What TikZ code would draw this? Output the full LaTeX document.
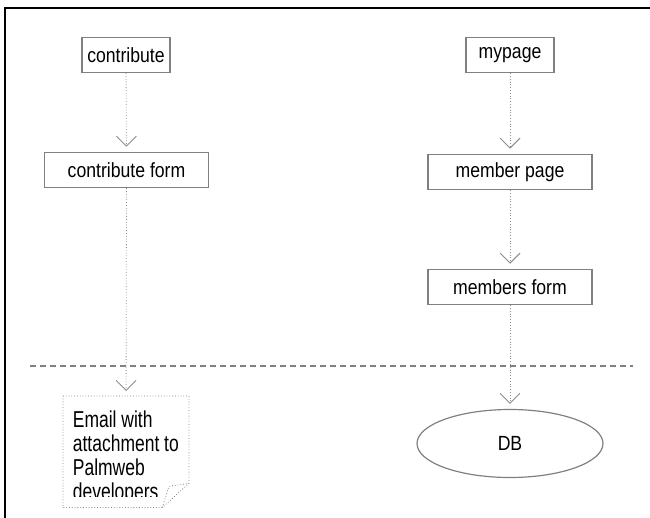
\documentclass[tikz,border=0pt]{standalone}
\usepackage{fontspec}
\setmainfont{Liberation Sans}
\newfontfamily\boxfont[FakeStretch=0.86]{Liberation Sans}
\newfontfamily\notefont[FakeStretch=0.76]{Liberation Sans}
\usetikzlibrary{arrows.meta,shapes.geometric}

\tikzset{
  pagebox/.style={draw=gray, line width=1.5pt, minimum height=35pt, inner xsep=5pt, minimum width=88pt,
    font=\boxfont\fontsize{20.5}{24}\selectfont},
  formbox/.style={pagebox, minimum width=164pt},
  flow/.style={draw=gray!90, dotted, line width=0.8pt, shorten >=5pt,
    -{Straight Barb[length=10pt,width=20pt,line width=0.9pt]}}
}

\begin{document}
\begin{tikzpicture}[x=1pt,y=-1pt]
  \useasboundingbox (0,0) rectangle (650,518);
  % frame
  \draw[line width=2pt] (5,518) -- (5,8) -- (650,8);

  \node[pagebox] (contribute) at (126,55) {contribute};
  \node[pagebox] (mypage) at (510,55) {mypage};
  \node[formbox] (cform) at (126.5,170) {contribute form};
  \node[formbox] (mpage) at (510,172) {member page};
  \node[formbox] (mform) at (510,287) {members form};
  \node[ellipse, draw=gray, line width=1.2pt, minimum width=186pt, minimum height=68pt,
    font=\boxfont\fontsize{20.5}{24}\selectfont] (db) at (510,443.5) {DB};

  % note
  \node[inner sep=0pt, minimum width=125.5pt, minimum height=111pt, anchor=north west] (email) at (63,396) {};
  \draw[gray, dotted, line width=0.8pt] (email.north west) -- (email.north east) -- ([yshift=24pt]email.south east)
    -- ([xshift=-26.5pt]email.south east) -- (email.south west) -- cycle;
  \draw[gray, dotted, line width=0.8pt] ([xshift=-26.5pt]email.south east) -- ([xshift=-20pt,yshift=21pt]email.south east)
    -- ([yshift=24pt]email.south east);
  \begin{scope}
    \clip (email.north west) rectangle ([yshift=10.5pt]email.south east);
    \node[anchor=north west, inner sep=0pt, align=left, font=\notefont\fontsize{23}{23.2}\selectfont]
      (emailtext) at (72.7,410.5) {Email with\\[1pt]attachment to\\[1pt]Palmweb\\[1pt]developers};
  \end{scope}

  % separator
  \draw[gray, line width=1.2pt, dash pattern=on 6pt off 4pt] (30,366) -- (633,366);

  \draw[flow] (contribute) -- (cform);
  \draw[flow] (cform) -- (email);
  \draw[flow] (mypage) -- (mpage);
  \draw[flow] (mpage) -- (mform);
  \draw[flow] (mform) -- (db);
\end{tikzpicture}
\end{document}
